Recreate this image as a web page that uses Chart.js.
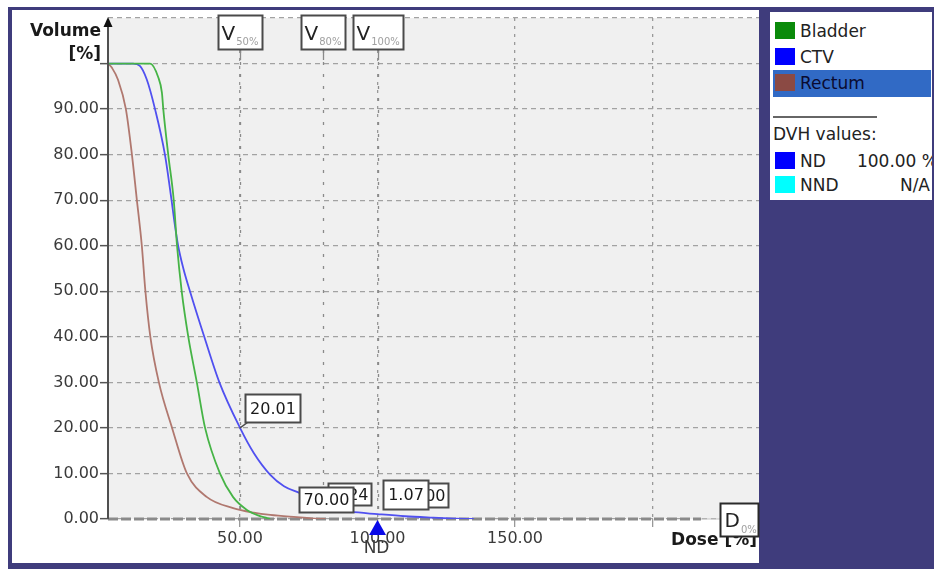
<!DOCTYPE html>
<html>
<head>
<meta charset="utf-8">
<script src="https://cdn.jsdelivr.net/npm/chart.js@4"></script>
<style>
html,body{margin:0;padding:0;background:#fff;width:934px;height:569px;overflow:hidden;font-family:"DejaVu Sans",sans-serif;}
#frame{position:absolute;left:8px;top:7px;width:926px;height:562px;background:#3f3c7c;}
#panel{position:absolute;left:12px;top:10px;width:747px;height:553px;background:#fff;}
#wrap{position:absolute;left:0;top:0;width:934px;height:569px;}
#legend{position:absolute;left:770px;top:12px;width:162px;height:188px;background:#fff;overflow:hidden;font-size:17px;color:#222;}
#legend .sq{position:absolute;left:5px;width:20px;height:17px;}
#legend .tx{position:absolute;left:30px;height:20px;line-height:20px;white-space:nowrap;}
#legend .val{position:absolute;right:-2px;height:20px;line-height:20px;white-space:nowrap;}
#legend .hl{position:absolute;left:3px;width:158px;height:27px;background:#316ac5;}
#legend .sep{position:absolute;left:3px;top:104px;width:104px;height:2px;background:#666;}
#legend .hd{position:absolute;left:3px;top:112px;height:20px;line-height:20px;white-space:nowrap;}
</style>
</head>
<body>
<div id="frame"></div>
<div id="panel"></div>
<div id="wrap"><canvas id="c"></canvas></div>
<div id="legend"></div>
<script>
// ---- Data ----
const structureNames = ['Bladder', 'CTV', 'Rectum'];
const lineColors = ['#46b446', '#5050f0', '#b0786f'];
const legendColors = ['#0a8a0a', '#0000ff', '#8b4a44'];
const selectedStructure = 2;

const bladderDose   = [2, 17.3, 20.2, 21.6, 22.1, 23.9, 25.9, 27.1, 28.8, 31.2, 34.3, 37.3, 42.7, 47.5, 52.5, 57.0, 59.8, 61.0];
const bladderVolume = [100, 100, 97.1, 93.6, 90, 80, 70, 60, 50, 40, 30, 20, 10, 4.8, 2.0, 0.7, 0.2, 0];

const ctvDose   = [2, 11.1, 13.6, 16.1, 19.1, 22.7, 25.1, 26.2, 27.5, 29.4, 31.8, 37.0, 42.5, 50, 55, 61, 66, 72, 77, 82.7, 90, 100, 110, 120, 128, 135];
const ctvVolume = [100, 100, 99.5, 96.5, 90, 80, 70, 65, 60, 55, 50, 40, 30, 20.01, 14.5, 9.7, 7.2, 5.6, 3.9, 2.3, 1.6, 1.07, 0.6, 0.3, 0.1, 0];

const rectumDose   = [2, 3.5, 5.6, 8.5, 10.7, 12.5, 14.3, 15.6, 17.4, 20.5, 25.3, 30.7, 38.0, 47.5, 55, 61, 70.7, 76, 81];
const rectumVolume = [100, 99, 96.5, 90, 80, 70, 60, 50, 40, 30, 20, 10, 4.8, 2.4, 1.4, 0.9, 0.4, 0.15, 0];

const xGridValues = [50, 100, 150, 200];
const xLabelMax = 150;
const yLabelMax = 90;
const yTickMax = 100;

const markerLetter = 'V';
const markerSubs = ['50%', '80%', '100%'];
const markerDoses = [50, 80, 100];

const valueBoxTexts   = ['20.01', '3.24', '70.00', '0.00', '1.07'];
const valueBoxDoses   = [50, 80, 80, 100, 100];
const valueBoxVolumes = [20.01, 3.1, 3.1, 1.07, 1.07];

const ndNames = ['ND'];
const ndDoses = [100];
const dMarkerLetter = 'D';
const dMarkerSub = '0%';

const yTitle = ['Volume', '[%]'];
const xTitle = 'Dose [%]';

const dvhHeader = 'DVH values:';
const dvhNames = ['ND', 'NND'];
const dvhColors = ['#0000ff', '#00ffff'];
const dvhTexts = ['100.00 %', 'N/A'];

// ---- Legend (HTML) ----
(function(){
  const lg = document.getElementById('legend');
  let html = '';
  structureNames.forEach((n, i) => {
    const top = 10 + i * 26;
    if (i === selectedStructure) html += `<div class="hl" style="top:${top-4}px"></div>`;
    html += `<div class="sq" style="top:${top}px;background:${legendColors[i]}"></div>`;
    html += `<div class="tx" style="top:${top-1}px;color:${i===selectedStructure?'#0a0a30':'#222'}">${n}</div>`;
  });
  html += `<div class="sep"></div><div class="hd">${dvhHeader}</div>`;
  dvhNames.forEach((n, i) => {
    const top = 140 + i * 24;
    html += `<div class="sq" style="top:${top}px;background:${dvhColors[i]}"></div>`;
    html += `<div class="tx" style="top:${top-1}px">${n}</div>`;
    html += `<div class="val" style="top:${top-1}px;right:${i===0?-6:2}px">${dvhTexts[i]}</div>`;
  });
  lg.innerHTML = html;
})();

// ---- Chart ----
Chart.defaults.font.family = '"DejaVu Sans", sans-serif';
Chart.defaults.font.size = 16;
Chart.defaults.color = '#3a3a3a';

const toPts = (d, v) => d.map((x, i) => ({x, y: v[i]}));

function drawBox(ctx, l, t, w, h, border) {
  ctx.fillStyle = '#fff';
  ctx.fillRect(l, t, w, h);
  ctx.strokeStyle = border || '#4a4a4a';
  ctx.lineWidth = 2;
  ctx.strokeRect(l, t, w, h);
}

const boxStyles = [
  {dx: 5,   dy: -34, w: 55, h: 28, pointer: true},
  {dx: 5,   dy: -22, w: 43, h: 22, align: 'right'},
  {dx: -24, dy: -18, w: 54, h: 25},
  {dx: 27,  dy: -31, w: 43, h: 24, align: 'right'},
  {dx: 5,   dy: -34, w: 45, h: 29}
];

const dvhPlugin = {
  id: 'dvh',
  beforeDraw(chart) {
    const {ctx, chartArea: a} = chart;
    ctx.save();
    ctx.fillStyle = '#f0f0f0';
    ctx.fillRect(a.left, a.top, a.right - a.left, a.bottom - a.top);
    ctx.restore();
  },
  beforeDatasetsDraw(chart) {
    const {ctx, chartArea: a, scales: {x, y}} = chart;
    const y0 = y.getPixelForValue(0);
    ctx.save();
    ctx.strokeStyle = '#8a8a8a';
    ctx.lineWidth = 1.3;
    ctx.setLineDash([3, 9]);
    markerDoses.forEach(d => {
      const px = Math.round(x.getPixelForValue(d)) + 0.5;
      ctx.beginPath(); ctx.moveTo(px, a.top + 32); ctx.lineTo(px, a.bottom); ctx.stroke();
    });
    ctx.setLineDash([]);
    markerDoses.forEach(d => {
      const px = Math.round(x.getPixelForValue(d)) + 0.5;
      ctx.beginPath(); ctx.moveTo(px, a.top + 32); ctx.lineTo(px, a.top + 42); ctx.stroke();
    });
    ctx.strokeStyle = '#8a8a8a';
    ctx.lineWidth = 3;
    ctx.setLineDash([10, 3]);
    ctx.beginPath(); ctx.moveTo(a.left, y0); ctx.lineTo(a.right - 58, y0); ctx.stroke();
    ctx.setLineDash([]);
    ctx.lineWidth = 1;
    ctx.strokeStyle = '#c4c4c4';
    ctx.beginPath(); ctx.moveTo(a.right - 58, y0); ctx.lineTo(a.right - 39, y0); ctx.stroke();
    ctx.restore();
  },
  afterDatasetsDraw(chart) {
    const {ctx, scales: {x, y}} = chart;
    ctx.save();
    ctx.font = '16px "DejaVu Sans", sans-serif';
    ctx.textBaseline = 'middle';
    valueBoxTexts.forEach((t, i) => {
      const s = boxStyles[i];
      const ax = x.getPixelForValue(valueBoxDoses[i]);
      const ay = y.getPixelForValue(valueBoxVolumes[i]);
      const l = Math.round(ax + s.dx) + 0.5, tp = Math.round(ay + s.dy) + 0.5;
      if (s.pointer) {
        ctx.strokeStyle = '#4a4a4a'; ctx.lineWidth = 1.5;
        ctx.beginPath(); ctx.moveTo(l + 2, tp + s.h); ctx.lineTo(ax, ay); ctx.stroke();
      }
      drawBox(ctx, l, tp, s.w, s.h);
      ctx.fillStyle = '#1a1a1a';
      if (s.align === 'right') {
        ctx.textAlign = 'right';
        ctx.fillText(t, l + s.w - 3, tp + s.h / 2 + 1);
      } else {
        ctx.textAlign = 'center';
        ctx.fillText(t, l + s.w / 2, tp + s.h / 2 + 1);
      }
    });
    ctx.restore();
  },
  afterDraw(chart) {
    const {ctx, chartArea: a, scales: {x, y}} = chart;
    const y0 = y.getPixelForValue(0);
    ctx.save();
    ctx.strokeStyle = '#505050';
    ctx.lineWidth = 2;
    ctx.beginPath(); ctx.moveTo(a.left, a.bottom); ctx.lineTo(a.left, a.top + 4); ctx.stroke();
    ctx.fillStyle = '#111';
    ctx.beginPath();
    ctx.moveTo(a.left, a.top - 1);
    ctx.lineTo(a.left - 4.5, a.top + 9);
    ctx.lineTo(a.left + 4.5, a.top + 9);
    ctx.closePath(); ctx.fill();
    ctx.font = 'bold 17px "DejaVu Sans", sans-serif';
    ctx.fillStyle = '#1a1a1a';
    ctx.textAlign = 'right';
    ctx.textBaseline = 'middle';
    ctx.fillText(yTitle[0], a.left - 7, a.top + 14);
    ctx.fillText(yTitle[1], a.left - 7, a.top + 37);
    ctx.fillText(xTitle, a.right - 2, y0 + 22);
    markerSubs.forEach((sub, i) => {
      const cx = x.getPixelForValue(markerDoses[i]);
      ctx.font = '20px "DejaVu Sans", sans-serif';
      const wv = ctx.measureText(markerLetter).width;
      ctx.font = '10px "DejaVu Sans", sans-serif';
      const ws = ctx.measureText(sub).width;
      const w = Math.round(wv + ws + 8);
      const l = Math.round(cx - w / 2) + 0.5, t = a.top - 2.5;
      drawBox(ctx, l, t, w, 34);
      ctx.textAlign = 'left';
      ctx.textBaseline = 'alphabetic';
      ctx.fillStyle = '#222';
      ctx.font = '20px "DejaVu Sans", sans-serif';
      ctx.fillText(markerLetter, l + 3, t + 24);
      ctx.fillStyle = '#a0a0a0';
      ctx.font = '10px "DejaVu Sans", sans-serif';
      ctx.fillText(sub, l + 4 + wv, t + 29);
    });
    ndDoses.forEach((d, i) => {
      const cx = x.getPixelForValue(d);
      ctx.fillStyle = '#0a0ae8';
      ctx.beginPath();
      ctx.moveTo(cx, y0 + 1);
      ctx.lineTo(cx - 8.5, y0 + 16);
      ctx.lineTo(cx + 8.5, y0 + 16);
      ctx.closePath(); ctx.fill();
      ctx.fillStyle = '#3a3a3a';
      ctx.font = '17px "DejaVu Sans", sans-serif';
      ctx.textAlign = 'center';
      ctx.textBaseline = 'middle';
      ctx.fillText(ndNames[i], cx - 1, y0 + 30);
    });
    const dl = Math.round(a.right - 39) + 0.5, dt = Math.round(y0 - 16) + 0.5;
    drawBox(ctx, dl, dt, 38, 33, '#2a2a2a');
    ctx.textAlign = 'left';
    ctx.textBaseline = 'alphabetic';
    ctx.fillStyle = '#222';
    ctx.font = '20px "DejaVu Sans", sans-serif';
    ctx.fillText(dMarkerLetter, dl + 4, dt + 23);
    const wd = ctx.measureText(dMarkerLetter).width;
    ctx.fillStyle = '#a0a0a0';
    ctx.font = '10px "DejaVu Sans", sans-serif';
    ctx.fillText(dMarkerSub, dl + 5 + wd, dt + 29);
    ctx.restore();
  }
};

new Chart(document.getElementById('c'), {
  type: 'line',
  data: {
    datasets: [
      {label: structureNames[0], data: toPts(bladderDose, bladderVolume), borderColor: lineColors[0]},
      {label: structureNames[1], data: toPts(ctvDose, ctvVolume), borderColor: lineColors[1]},
      {label: structureNames[2], data: toPts(rectumDose, rectumVolume), borderColor: lineColors[2]}
    ]
  },
  options: {
    responsive: true,
    maintainAspectRatio: false,
    animation: false,
    events: [],
    elements: {
      line: {borderWidth: 1.8, cubicInterpolationMode: 'monotone', fill: false},
      point: {radius: 0}
    },
    layout: {padding: {left: 0, top: 18, right: 175, bottom: 0}},
    plugins: {legend: {display: false}, tooltip: {enabled: false}},
    scales: {
      x: {
        type: 'linear',
        min: 2,
        max: 238.7,
        afterBuildTicks: s => { s.ticks = xGridValues.map(v => ({value: v})); },
        afterFit: s => { s.height = 50; },
        ticks: {
          callback: v => v <= xLabelMax ? v.toFixed(2) : '',
          padding: 2,
          maxRotation: 0,
          autoSkip: false,
          color: '#3a3a3a',
          font: {size: 16}
        },
        grid: {color: '#999', lineWidth: 1.3, tickLength: 8, tickColor: '#999', tickWidth: 1.3},
        border: {display: false, dash: [3, 5]}
      },
      y: {
        type: 'linear',
        min: 0,
        max: 110,
        afterFit: s => { s.width = 108; },
        ticks: {
          stepSize: 10,
          callback: v => v <= yLabelMax ? v.toFixed(2) : '',
          padding: 1,
          color: '#3a3a3a',
          font: {size: 16}
        },
        grid: {
          color: '#a2a2a2', lineWidth: 1.3, tickLength: 8, tickWidth: 1.5,
          tickColor: c => (c.tick && c.tick.value > yTickMax) ? 'rgba(0,0,0,0)' : '#555'
        },
        border: {display: false, dash: [5, 4]}
      }
    }
  },
  plugins: [dvhPlugin]
});
</script>
</body>
</html>
